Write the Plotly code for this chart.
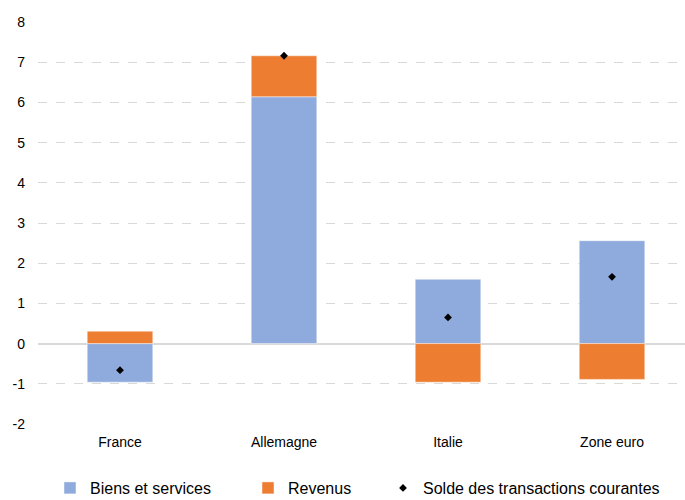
import plotly.graph_objects as go

categories = ["France", "Allemagne", "Italie", "Zone euro"]
biens_services = [-0.96, 6.14, 1.60, 2.56]
revenus = [0.31, 1.02, -0.96, -0.89]
solde = [-0.66, 7.16, 0.65, 1.66]
y_ticks = [-2, -1, 0, 1, 2, 3, 4, 5, 6, 7, 8]
y_tick_labels = ["-2", "-1", "0", "1", "2", "3", "4", "5", "6", "7", "8"]

BLUE = "#8FAADC"
ORANGE = "#ED7D31"
FONT = "Liberation Sans, Arial, sans-serif"

fig = go.Figure()
fig.add_trace(go.Bar(x=categories, y=biens_services, name="Biens et services",
                     marker=dict(color=BLUE, line=dict(color="rgba(255,255,255,0.6)", width=0.8)),
                     width=0.4, legend="legend"))
fig.add_trace(go.Bar(x=categories, y=revenus, name="Revenus",
                     marker=dict(color=ORANGE, line=dict(color="rgba(255,255,255,0.6)", width=0.8)),
                     width=0.4, legend="legend2"))
fig.add_trace(go.Scatter(x=categories, y=solde, name="Solde des transactions courantes",
                         mode="markers", marker=dict(color="black", size=6, symbol="diamond"),
                         legend="legend3"))

legend_common = dict(orientation="h", xref="container", yref="container",
                     xanchor="left", yanchor="middle", y=0.024,
                     font=dict(size=16, family=FONT, color="#000000"),
                     itemwidth=30, bgcolor="rgba(0,0,0,0)")

fig.update_layout(
    width=685, height=500,
    margin=dict(l=38, r=0, t=22, b=76),
    barmode="relative",
    plot_bgcolor="white", paper_bgcolor="white",
    font=dict(family=FONT, size=14, color="#000000"),
    showlegend=True,
    legend=dict(x=50 / 685, **legend_common),
    legend2=dict(x=248 / 685, **legend_common),
    legend3=dict(x=383 / 685, **legend_common),
)
fig.update_xaxes(range=[-0.5, 3.445], showgrid=False, showline=False, ticks="",
                 tickfont=dict(size=14), ticklabelstandoff=8)
fig.update_yaxes(range=[-2, 8], tickvals=y_ticks, ticktext=y_tick_labels, showgrid=True,
                 gridcolor="#D9D9D9", griddash="dash", gridwidth=1,
                 zeroline=True, zerolinecolor="#D9D9D9", zerolinewidth=1.5,
                 showline=False, ticks="", tickfont=dict(size=14), ticklabelstandoff=12)

fig.write_html("out.html")
